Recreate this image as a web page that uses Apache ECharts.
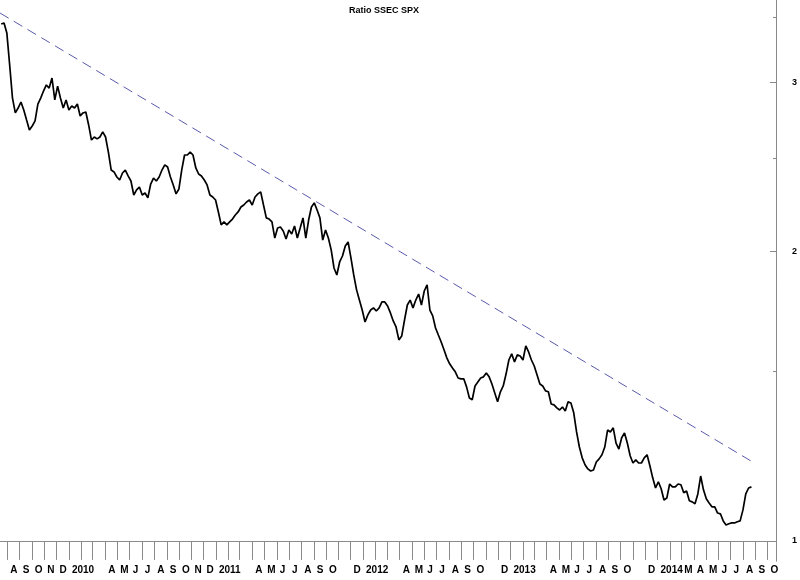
<!DOCTYPE html>
<html>
<head>
<meta charset="utf-8">
<script src="https://cdn.jsdelivr.net/npm/echarts@6/dist/echarts.min.js"></script>
<style>
html,body{margin:0;padding:0;background:#fff;}
#chart{width:800px;height:580px;}
</style>
</head>
<body>
<div id="chart"></div>
<script>
// ---- data ----
const chartTitle = 'Ratio SSEC SPX';
const weekStart = '2009-07-17';   // first weekly observation
const ratioValues = [
3.447,3.455,3.373,3.125,2.887,2.786,2.819,2.860,2.806,2.739,
2.675,2.700,2.733,2.846,2.887,2.936,2.979,2.957,3.029,2.874,
2.971,2.887,2.819,2.874,2.806,2.833,2.819,2.846,2.766,2.786,
2.792,2.707,2.611,2.630,2.618,2.630,2.662,2.630,2.537,2.430,
2.419,2.390,2.373,2.413,2.430,2.396,2.367,2.289,2.317,2.333,
2.289,2.300,2.273,2.350,2.384,2.367,2.390,2.430,2.460,2.448,
2.390,2.345,2.295,2.322,2.430,2.519,2.519,2.537,2.519,2.442,
2.407,2.396,2.373,2.345,2.289,2.278,2.262,2.198,2.131,2.146,
2.131,2.146,2.161,2.182,2.198,2.224,2.235,2.251,2.262,2.235,
2.278,2.295,2.306,2.235,2.167,2.161,2.146,2.065,2.115,2.120,
2.100,2.060,2.105,2.085,2.125,2.065,2.115,2.167,2.065,2.156,
2.224,2.246,2.208,2.167,2.055,2.105,2.065,2.007,1.922,1.890,
1.950,1.978,2.026,2.046,1.969,1.890,1.824,1.780,1.738,1.689,
1.718,1.738,1.747,1.734,1.747,1.772,1.772,1.755,1.726,1.693,
1.669,1.618,1.633,1.697,1.759,1.780,1.747,1.780,1.806,1.759,
1.819,1.846,1.738,1.714,1.665,1.637,1.610,1.580,1.550,1.528,
1.513,1.499,1.477,1.474,1.474,1.446,1.408,1.402,1.449,1.463,
1.477,1.481,1.495,1.481,1.456,1.425,1.395,1.429,1.449,1.491,
1.542,1.565,1.535,1.561,1.557,1.542,1.595,1.572,1.542,1.520,
1.488,1.456,1.449,1.432,1.429,1.388,1.385,1.375,1.368,1.378,
1.365,1.395,1.391,1.359,1.298,1.252,1.220,1.200,1.188,1.182,
1.185,1.208,1.217,1.229,1.252,1.304,1.298,1.311,1.264,1.246,
1.280,1.295,1.264,1.226,1.205,1.214,1.205,1.205,1.220,1.229,
1.197,1.163,1.135,1.152,1.133,1.103,1.108,1.146,1.138,1.138,
1.146,1.144,1.122,1.127,1.101,1.098,1.093,1.119,1.168,1.130,
1.106,1.095,1.085,1.085,1.069,1.067,1.049,1.039,1.042,1.044,
1.044,1.047,1.049,1.077,1.119,1.135,1.138
];
const trendDates = ['2009-07-14', '2014-08-25'];
const trendValues = [3.539, 1.208];
const xRange = ['2009-07-14', '2014-10-22'];
const yRange = [0.953, 3.651];
const yTickLabels = [1, 2, 3];
const yMinorTicks = [1.5, 2.5, 3.5];
const labeledMonths = [
'2009-08','2009-09','2009-10','2009-11','2009-12',
'2010-01','2010-04','2010-05','2010-06','2010-07','2010-08','2010-09','2010-10','2010-11','2010-12',
'2011-01','2011-04','2011-05','2011-06','2011-07','2011-08','2011-09','2011-10','2011-12',
'2012-01','2012-04','2012-05','2012-06','2012-07','2012-08','2012-09','2012-10','2012-12',
'2013-01','2013-04','2013-05','2013-06','2013-07','2013-08','2013-09','2013-10','2013-12',
'2014-01','2014-03','2014-04','2014-05','2014-06','2014-07','2014-08','2014-09','2014-10'
];
const monthLetters = ['J','F','M','A','M','J','J','A','S','O','N','D'];

// ---- helpers ----
function utc(s) {
  const p = s.split('-').map(Number);
  return Date.UTC(p[0], p[1] - 1, p[2] || 1);
}
const DAY = 86400000;
const xMin = utc(xRange[0]), xMax = utc(xRange[1]);
const t0 = utc(weekStart);
const lineData = ratioValues.map((v, i) => [t0 + i * 7 * DAY, Math.log(v)]);
const trendData = trendDates.map((d, i) => [utc(d), Math.log(trendValues[i])]);

const monthTicks = [];
{
  const d = new Date(xMin);
  let y = d.getUTCFullYear(), m = d.getUTCMonth() + 1;
  while (true) {
    const t = Date.UTC(y, m, 1);
    if (t > xMax) break;
    monthTicks.push(t);
    m++; if (m > 11) { m = 0; y++; }
  }
}
const monthLabelValues = labeledMonths.map(utc);

const GRAY = '#8a8a8a';
const FONT = '"Liberation Sans", Arial, sans-serif';

const chart = echarts.init(document.getElementById('chart'), null, {renderer: 'canvas'});
chart.setOption({
  animation: false,
  backgroundColor: '#ffffff',
  title: {
    text: chartTitle,
    left: 344, top: 1,
    textStyle: {fontFamily: FONT, fontSize: 9, fontWeight: 'bold', color: '#000'}
  },
  grid: {left: 0, right: 24, top: 0, bottom: 19, containLabel: false, outerBoundsMode: 'none'},
  xAxis: {
    type: 'value',
    min: xMin, max: xMax,
    axisLine: {show: true, lineStyle: {color: GRAY, width: 1}},
    axisTick: {show: true, customValues: monthTicks, length: 19, inside: false,
               lineStyle: {color: GRAY, width: 1}},
    axisLabel: {
      show: true, customValues: monthLabelValues,
      align: 'left', padding: [0, 0, 0, 3], margin: 4,
      fontFamily: FONT, fontSize: 10, fontWeight: 'bold', color: '#000',
      formatter: function (v) {
        const d = new Date(v);
        const m = d.getUTCMonth();
        return m === 0 ? String(d.getUTCFullYear()) : monthLetters[m];
      }
    },
    splitLine: {show: false}
  },
  yAxis: [
    {
      type: 'value', position: 'right',
      min: Math.log(yRange[0]), max: Math.log(yRange[1]),
      axisLine: {show: true, lineStyle: {color: GRAY, width: 1}},
      axisTick: {show: true, inside: true, length: 6,
                 customValues: yTickLabels.map(Math.log), lineStyle: {color: GRAY}},
      axisLabel: {show: true, customValues: yTickLabels.map(Math.log), margin: 16,
                  fontFamily: FONT, fontSize: 9, fontWeight: 'bold', color: '#000',
                  formatter: v => String(Math.round(Math.exp(v)))},
      splitLine: {show: false}
    },
    {
      type: 'value', position: 'right',
      min: Math.log(yRange[0]), max: Math.log(yRange[1]),
      axisLine: {show: true, lineStyle: {color: GRAY, width: 1}},
      axisTick: {show: true, inside: true, length: 3,
                 customValues: yMinorTicks.map(Math.log), lineStyle: {color: GRAY}},
      axisLabel: {show: false},
      splitLine: {show: false}
    }
  ],
  series: [
    {
      name: 'trend', type: 'line', yAxisIndex: 0,
      data: trendData, symbol: 'none', silent: true,
      lineStyle: {color: '#5a5aaa', width: 1, type: [10, 6]}
    },
    {
      name: 'ratio', type: 'line', yAxisIndex: 0,
      data: lineData, symbol: 'none',
      lineStyle: {color: '#000000', width: 1.7}
    }
  ]
});
</script>
</body>
</html>
